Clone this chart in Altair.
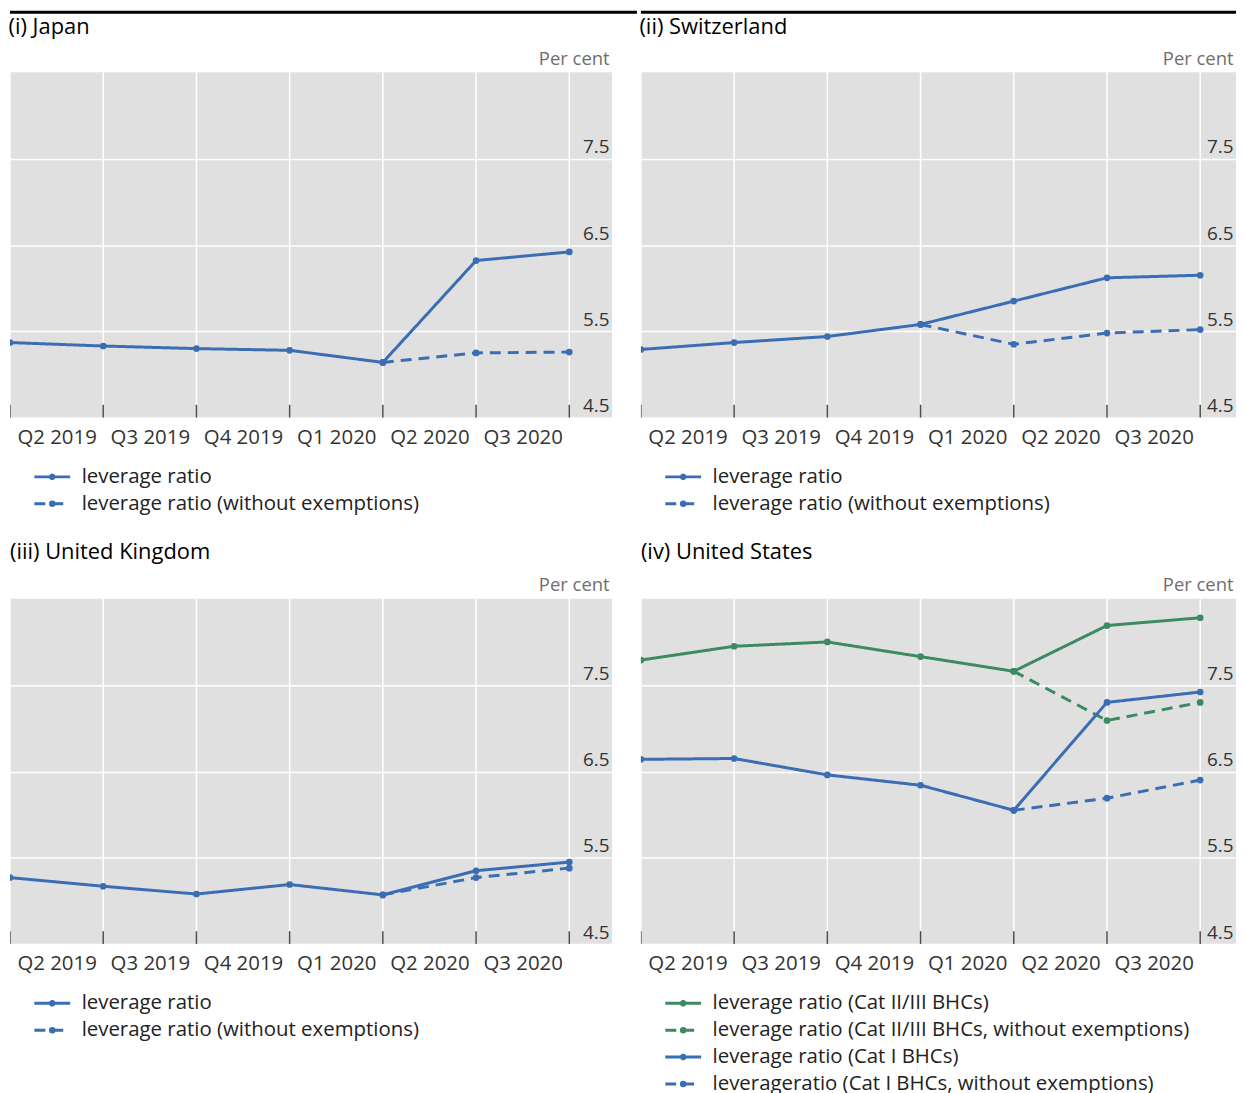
import altair as alt
import pandas as pd

FONT = "Open Sans"
BLUE = "#3a6db4"
GREEN = "#3c8a61"
BG = "#e0e0e0"

# ---- data -------------------------------------------------------------
quarter_labels = ["Q2 2019", "Q3 2019", "Q4 2019", "Q1 2020", "Q2 2020", "Q3 2020"]
obs_pos = [0, 1, 2, 3, 4, 5, 6]          # observation positions (quarter boundaries)
label_pos = list(range(len(quarter_labels)))
y_ticks = [4.5, 5.5, 6.5, 7.5]

japan_lr = [5.37, 5.33, 5.30, 5.28, 5.14, 6.32, 6.42]
japan_lr_wo = [None, None, None, None, 5.14, 5.25, 5.26]

swiss_lr = [5.29, 5.37, 5.44, 5.58, 5.85, 6.12, 6.15]
swiss_lr_wo = [None, None, None, 5.58, 5.35, 5.48, 5.52]

uk_lr = [5.27, 5.17, 5.08, 5.19, 5.07, 5.35, 5.45]
uk_lr_wo = [None, None, None, None, 5.07, 5.27, 5.38]

us_cat23 = [7.79, 7.95, 8.00, 7.83, 7.66, 8.19, 8.28]
us_cat23_wo = [None, None, None, None, 7.66, 7.09, 7.30]
us_cat1 = [6.64, 6.65, 6.46, 6.34, 6.05, 7.30, 7.42]
us_cat1_wo = [None, None, None, None, 6.05, 6.19, 6.40]

LR = "leverage ratio"
LR_WO = "leverage ratio (without exemptions)"
US_NAMES = [
    "leverage ratio (Cat II/III BHCs)",
    "leverage ratio (Cat II/III BHCs, without exemptions)",
    "leverage ratio (Cat I BHCs)",
    "leverageratio (Cat I BHCs, without exemptions)",
]

SOLID = [1, 0]
DASH = [11, 7]
SYMBOL = "M-1,0H1M-0.1,0A0.1,0.1 0 1,1 0.1,0A0.1,0.1 0 1,1 -0.1,0Z"

label_expr = "[" + ",".join("'" + q + "'" for q in quarter_labels) + "][datum.value]"

W1, W2, H = 605, 598, 347
STEP = 93.67            # pixels per quarter
GAP = 26


def panel(title, series, colors, dashes, width, title_dy, top_rule_len=0):
    names = [s[0] for s in series]
    rows = []
    for name, vals in series:
        for p, v in zip(obs_pos, vals):
            if v is not None:
                rows.append({"series": name, "pos": p, "value": v})
    df = pd.DataFrame(rows)

    xscale = alt.Scale(domain=[0, width / STEP], nice=False, zero=False)
    yscale = alt.Scale(domain=[4.5, 8.5], nice=False, zero=False)

    xaxis = alt.Axis(
        values=label_pos, labelExpr=label_expr, grid=False,
        ticks=False, tickSize=0, domain=False, labelOffset=STEP / 2, labelPadding=26,
        labelBaseline="alphabetic", labelFontSize=20.5, labelColor="#333333", labelFont=FONT,
        labelFlush=False, labelOverlap=False, title=None,
    )
    yaxis = alt.Axis(
        values=y_ticks, orient="right", grid=True, gridColor="white", gridWidth=1.5,
        ticks=False, tickSize=0, domain=False, labelAlign="right", labelPadding=-3,
        labelBaseline="alphabetic", labelOffset=-6, labelFontSize=19, labelColor="#333333",
        labelFont=FONT, labelFlush=False, format=".1f",
        title="Per cent", titleAngle=0, titleAlign="right", titleBaseline="alphabetic",
        titleX=-3, titleY=-8, titleFontSize=18.5, titleFontWeight="normal", titleColor="#6e6e6e",
        titleFont=FONT,
    )
    legend = alt.Legend(
        title=None, orient="none", legendX=23, legendY=393, direction="vertical",
        symbolType=SYMBOL, symbolSize=1296, symbolStrokeWidth=3, labelFontSize=20.5,
        labelFont=FONT, labelColor="#222222", labelOffset=10, rowPadding=0, padding=0,
        clipHeight=27, labelLimit=800,
    )

    tick_df = pd.DataFrame({"pos": obs_pos})
    vgrid = alt.Chart(tick_df).mark_rule(color="white", strokeWidth=1.5, clip=True).encode(
        x=alt.X("pos:Q", scale=xscale, axis=xaxis),
    )
    ticks = alt.Chart(tick_df).mark_rule(color="#4d4d4d", strokeWidth=1.5, clip=True).encode(
        x=alt.X("pos:Q", scale=xscale, axis=xaxis),
        y=alt.YDatum(4.5, type="quantitative", scale=yscale, axis=yaxis),
        y2=alt.Y2Datum(4.65),
    )
    lines = alt.Chart(df).mark_line(
        strokeWidth=3, clip=True, point=alt.OverlayMarkDef(filled=True, size=45, clip=True)
    ).encode(
        x=alt.X("pos:Q", scale=xscale, axis=xaxis),
        y=alt.Y("value:Q", scale=yscale, axis=yaxis),
        color=alt.Color("series:N", scale=alt.Scale(domain=names, range=colors), legend=legend),
        strokeDash=alt.StrokeDash("series:N", scale=alt.Scale(domain=names, range=dashes), legend=legend),
    )
    layers = [vgrid, ticks, lines]
    if top_rule_len:
        # decorative page rule above the top row of panels
        layers.append(
            alt.Chart(pd.DataFrame({"k": [0]})).mark_rule(color="black", strokeWidth=3).encode(
                x=alt.value(0), x2=alt.value(top_rule_len), y=alt.value(-60.5)
            )
        )
    return alt.layer(*layers).properties(
        width=width, height=H,
        title=alt.Title(title, anchor="start", fontSize=22, fontWeight="normal", font=FONT,
                        color="black", baseline="alphabetic", offset=16, dy=title_dy),
    )


p1 = panel("(i) Japan", [(LR, japan_lr), (LR_WO, japan_lr_wo)], [BLUE, BLUE], [SOLID, DASH],
           W1, 61, top_rule_len=W1 + GAP - 1)
p2 = panel("(ii) Switzerland", [(LR, swiss_lr), (LR_WO, swiss_lr_wo)], [BLUE, BLUE], [SOLID, DASH],
           W2, 61, top_rule_len=W2)
p3 = panel("(iii) United Kingdom", [(LR, uk_lr), (LR_WO, uk_lr_wo)], [BLUE, BLUE], [SOLID, DASH],
           W1, 21)
p4 = panel(
    "(iv) United States",
    [(US_NAMES[0], us_cat23), (US_NAMES[1], us_cat23_wo), (US_NAMES[2], us_cat1), (US_NAMES[3], us_cat1_wo)],
    [GREEN, GREEN, BLUE, BLUE],
    [SOLID, DASH, SOLID, DASH],
    W2, 21,
)

chart = alt.concat(p1, p2, p3, p4, columns=2, spacing={"row": 24, "column": 0}).resolve_scale(
    x="independent", y="independent", color="independent", strokeDash="independent"
).resolve_legend(color="independent", strokeDash="independent").properties(
    padding={"left": 0, "top": 0, "right": 0, "bottom": 0}
).configure(font=FONT).configure_view(fill=BG, strokeWidth=0)

chart.save("out.html", embed_options={"renderer": "svg", "actions": False})
